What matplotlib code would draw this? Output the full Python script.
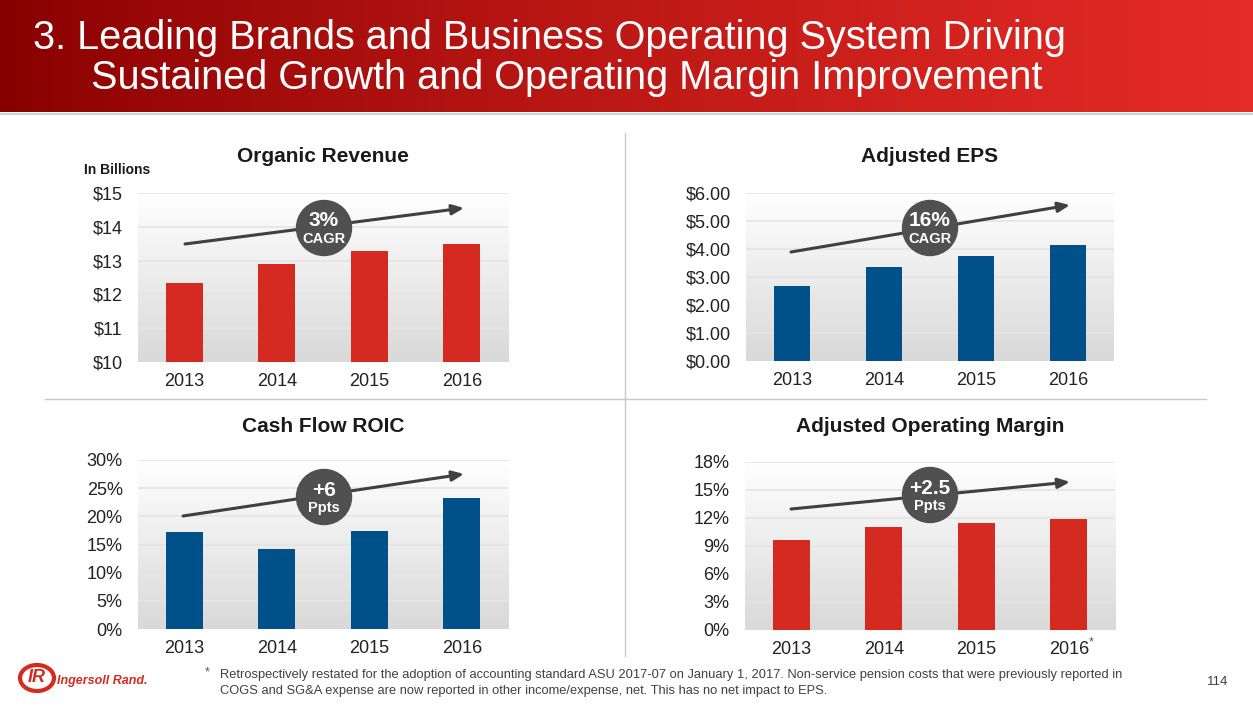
import numpy as np
import matplotlib
matplotlib.use("Agg")
import matplotlib.pyplot as plt
from matplotlib.patches import Ellipse, FancyArrowPatch

W, H = 1253, 705

years = ["2013", "2014", "2015", "2016"]
revenue = [12.34, 12.90, 13.28, 13.49]
eps = [2.68, 3.36, 3.75, 4.14]
roic = [17.2, 14.2, 17.4, 23.3]
op_margin = [9.6, 11.0, 11.5, 11.9]

rev_ticks = [10, 11, 12, 13, 14, 15]
eps_ticks = [0, 1, 2, 3, 4, 5, 6]
roic_ticks = [0, 5, 10, 15, 20, 25, 30]
margin_ticks = [0, 3, 6, 9, 12, 15, 18]

RED = "#d42a20"
BLUE = "#00508a"

plt.rcParams["font.family"] = ["Liberation Sans", "DejaVu Sans"]


def fx(px):
    return px / W


def fy(py):
    return 1 - py / H


fig = plt.figure(figsize=(W / 100, H / 100), dpi=100)
fig.patch.set_facecolor("white")

# header band
hax = fig.add_axes([0, fy(112), 1, 112 / H])
grad = np.linspace(0, 1, 256)
c0 = np.array([0.53, 0.0, 0.0])
c1 = np.array([0.90, 0.17, 0.15])
band = (c0[None, :] * (1 - grad[:, None] ** 0.8) + c1[None, :] * grad[:, None] ** 0.8)[None, :, :]
hax.imshow(band, aspect="auto", extent=[0, 1, 0, 1])
hax.set_axis_off()
fig.add_artist(plt.Line2D([0, 1], [fy(113.5), fy(113.5)], color="#d0d0d0", lw=1.5))
fig.text(fx(33), fy(38), "3. Leading Brands and Business Operating System Driving",
         color="white", fontsize=28.5, va="center", ha="left")
fig.text(fx(91), fy(78), "Sustained Growth and Operating Margin Improvement",
         color="white", fontsize=28.5, va="center", ha="left")

# dividers
fig.add_artist(plt.Line2D([fx(625), fx(625)], [fy(133), fy(656)], color="#c8c8c8", lw=1))
fig.add_artist(plt.Line2D([fx(45), fx(1206)], [fy(398.5), fy(398.5)], color="#c8c8c8", lw=1))


def panel(box, values, ticks, labels, color, title, title_y, arrow, circ, big, small):
    x0, y0, x1, y1 = box
    ax = fig.add_axes([fx(x0), fy(y1), fx(x1 - x0), (y1 - y0) / H])
    g = np.linspace(1.0, 0.85, 256)[:, None]
    bg = np.dstack([g, g, g])
    ax.imshow(bg, extent=[0, 1, 0, 1], transform=ax.transAxes, aspect="auto", zorder=0)
    for t in ticks[1:]:
        ax.axhline(t, color="#e4e4e4", lw=1.2, zorder=1)
    base = ticks[0]
    ax.bar(range(len(years)), [v - base for v in values], width=0.4, color=color,
           zorder=2, bottom=base)
    ax.set_xlim(-0.5, len(years) - 0.5)
    ax.set_ylim(ticks[0], ticks[-1])
    ax.set_yticks(ticks)
    ax.set_yticklabels(labels)
    ax.set_xticks(range(len(years)))
    ax.set_xticklabels(years)
    ax.tick_params(length=0, labelsize=13, labelcolor="#222222")
    ax.tick_params(axis="y", pad=11)
    ax.tick_params(axis="x", pad=8)
    for s in ax.spines.values():
        s.set_visible(False)
    cx = (x0 + x1) / 2
    fig.text(fx(cx), fy(title_y), title, fontsize=15, fontweight="bold",
             color="#1a1a1a", ha="center", va="center")
    (ax0, ay0), (ax1, ay1) = arrow
    fig.add_artist(FancyArrowPatch(
        (fx(ax0), fy(ay0)), (fx(ax1), fy(ay1)), transform=fig.transFigure,
        arrowstyle="-|>,head_length=7,head_width=3", mutation_scale=1,
        color="#404040", lw=2.2, shrinkA=0, shrinkB=0, zorder=5))
    fig.add_artist(Ellipse((fx(circ[0]), fy(circ[1])), 55 / W, 55 / H,
                           transform=fig.transFigure, color="#505050", zorder=6))
    fig.text(fx(circ[0]), fy(circ[1] - 7), big, fontsize=15, fontweight="bold",
             color="white", ha="center", va="center", zorder=7)
    fig.text(fx(circ[0]), fy(circ[1] + 11), small, fontsize=10.5, fontweight="bold",
             color="white", ha="center", va="center", zorder=7)
    return ax


panel((138, 193, 508, 362), revenue, rev_ticks, ["$%d" % t for t in rev_ticks], RED,
      "Organic Revenue", 157, ((185, 244), (464, 208)), (324, 228), "3%", "CAGR")
panel((746, 193, 1114, 361), eps, eps_ticks, ["$%.2f" % t for t in eps_ticks], BLUE,
      "Adjusted EPS", 157, ((791, 252), (1070, 205)), (930, 228), "16%", "CAGR")
panel((138, 460, 508, 629), roic, roic_ticks, ["%d%%" % t for t in roic_ticks], BLUE,
      "Cash Flow ROIC", 427, ((183, 516), (464, 474)), (324, 497), "+6", "Ppts")
panel((745, 462, 1115, 630), op_margin, margin_ticks, ["%d%%" % t for t in margin_ticks], RED,
      "Adjusted Operating Margin", 427, ((791, 509), (1070, 482)), (930, 495), "+2.5", "Ppts")
fig.text(fx(1089), fy(642), "*", fontsize=9, color="#555555", ha="left", va="center")

fig.text(fx(84), fy(170), "In Billions", fontsize=10, fontweight="bold", color="#1a1a1a",
         ha="left", va="center")

# footer
fig.add_artist(Ellipse((fx(37), fy(678)), 34 / W, 26 / H, transform=fig.transFigure,
                       fill=False, ec="#d42a20", lw=3))
fig.text(fx(37), fy(678), "IR", fontsize=13, fontweight="bold", style="italic",
         color="#d42a20", ha="center", va="center")
fig.text(fx(57), fy(681), "Ingersoll Rand.", fontsize=9, style="italic", fontweight="bold",
         color="#d42a20", ha="left", va="center")
fig.text(fx(205), fy(672), "*", fontsize=9, color="#555555", ha="left", va="center")
fig.text(fx(220), fy(675),
         "Retrospectively restated for the adoption of accounting standard ASU 2017-07 on January 1, 2017. "
         "Non-service pension costs that were previously reported in",
         fontsize=9.3, color="#404040", ha="left", va="center")
fig.text(fx(220), fy(691),
         "COGS and SG&A expense are now reported in other income/expense, net. This has no net impact to EPS.",
         fontsize=9.3, color="#404040", ha="left", va="center")
fig.text(fx(1228), fy(682), "114", fontsize=9.5, color="#404040", ha="right", va="center")

fig.savefig("out.png", dpi=100)
